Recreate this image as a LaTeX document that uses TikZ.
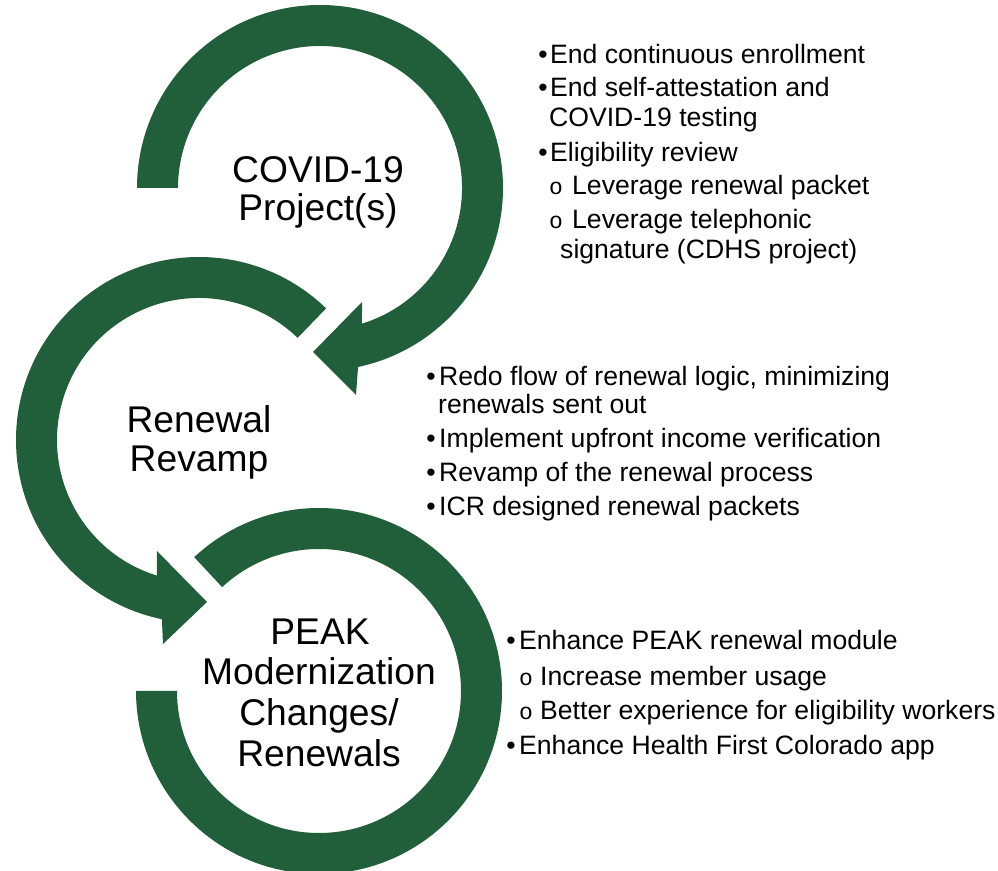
\documentclass[tikz,border=0pt]{standalone}
\usepackage{fontspec}
\setmainfont{Liberation Sans}
\newfontfamily\subbulletfont{Liberation Mono}
\definecolor{ringgreen}{RGB}{33,94,58}
\begin{document}
\begin{tikzpicture}[x=1pt,y=1pt,
  ring/.style={fill=ringgreen},
  hub/.style={anchor=base,font=\fontsize{37.2}{40}\selectfont,inner sep=0pt},
  item/.style={anchor=base west,font=\fontsize{26.6}{29}\selectfont,inner sep=0pt},
  dotmark/.style={anchor=base,font=\fontsize{26.6}{29}\selectfont,inner sep=0pt},
  ringmark/.style={anchor=base,font=\subbulletfont\fontsize{23}{29}\selectfont,inner sep=0pt}]
\useasboundingbox (0,0) rectangle (998,870);

% ring centres
\coordinate (c1) at (320,682);
\coordinate (c2) at (199,430);
\coordinate (c3) at (319,179);

% COVID-19 ring: clockwise from the left, arrowhead at the bottom
\fill[ring,shift={(c1)}] (180:183) arc[start angle=180,end angle=-78,radius=183]
  -- (36,-207) -- (-7,-164) -- (42,-114) -- (-72.8:142)
  arc[start angle=-72.8,end angle=180,radius=142] -- cycle;

% Renewal ring: anticlockwise from the upper right, arrowhead at the bottom
\fill[ring,shift={(c2)}] (46:183) arc[start angle=46,end angle=258.3,radius=183]
  -- (-36,-204) -- (8,-162) -- (-42,-111) -- (252.7:142)
  arc[start angle=252.7,end angle=46,radius=142] -- cycle;

% PEAK ring: open ring, no arrowhead
\fill[ring,shift={(c3)}] (133:183) arc[start angle=133,end angle=-180,radius=183]
  -- (-180:142) arc[start angle=-180,end angle=133,radius=142] -- cycle;

% ring titles
\node[hub] (covidA) at (318,687) {COVID-19};
\node[hub] (covidB) at (318,649) {Project(s)};
\node[hub] (renewA) at (199,437) {Renewal};
\node[hub] (renewB) at (199,398) {Revamp};
\node[hub] (peakA) at (320,225) {PEAK};
\node[hub] (peakB) at (319,185) {Modernization};
\node[hub] (peakC) at (319,144) {Changes/};
\node[hub] (peakD) at (319,103) {Renewals};

% COVID-19 items
\node[dotmark] (b1a) at (543,806) {•};
\node[item] (t1a) at (550,806) {End continuous enrollment};
\node[dotmark] (b1b) at (543,773) {•};
\node[item] (t1b) at (550,773) {End self-attestation and};
\node[item] (t1c) at (549,743) {COVID-19 testing};
\node[dotmark] (b1d) at (543,708) {•};
\node[item] (t1d) at (550,708) {Eligibility review};
\node[ringmark] (b1e) at (556,675) {o};
\node[item] (t1e) at (572,675) {Leverage renewal packet};
\node[ringmark] (b1f) at (556,641) {o};
\node[item] (t1f) at (572,641) {Leverage telephonic};
\node[item] (t1g) at (560,611) {signature (CDHS project)};

% Renewal items
\node[dotmark] (b2a) at (431,484) {•};
\node[item] (t2a) at (439,484) {Redo flow of renewal logic, minimizing};
\node[item] (t2b) at (438,456) {renewals sent out};
\node[dotmark] (b2c) at (431,422) {•};
\node[item] (t2c) at (439,422) {Implement upfront income verification};
\node[dotmark] (b2d) at (431,388) {•};
\node[item] (t2d) at (439,388) {Revamp of the renewal process};
\node[dotmark] (b2e) at (431,354) {•};
\node[item] (t2e) at (439,354) {ICR designed renewal packets};

% PEAK items
\node[dotmark] (b3a) at (511,220) {•};
\node[item] (t3a) at (519,220) {Enhance PEAK renewal module};
\node[ringmark] (b3b) at (526,184) {o};
\node[item] (t3b) at (540,184) {Increase member usage};
\node[ringmark] (b3c) at (526,150) {o};
\node[item] (t3c) at (540,150) {Better experience for eligibility workers};
\node[dotmark] (b3d) at (511,115) {•};
\node[item] (t3d) at (519,115) {Enhance Health First Colorado app};
\end{tikzpicture}
\end{document}
